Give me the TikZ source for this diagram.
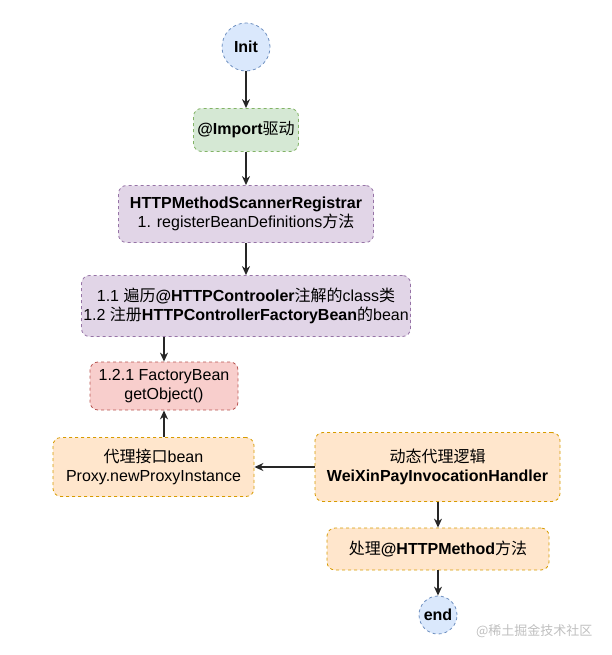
\documentclass[tikz,border=0pt]{standalone}
\usepackage{fontspec}
\setmainfont{Liberation Sans}
\newfontfamily\cjk{Noto Sans CJK SC}
\newcommand{\zh}[1]{{\cjk #1}}
\usetikzlibrary{arrows.meta}
\definecolor{bluef}{HTML}{DAE8FC}\definecolor{bluel}{HTML}{6C8EBF}
\definecolor{greenf}{HTML}{D5E8D4}\definecolor{greenl}{HTML}{82B366}
\definecolor{purpf}{HTML}{E1D5E7}\definecolor{purpl}{HTML}{9673A6}
\definecolor{redf}{HTML}{F8CECC}\definecolor{redl}{HTML}{B85450}
\definecolor{orgf}{HTML}{FFE6CC}\definecolor{orgl}{HTML}{D79B00}
\begin{document}
\begin{tikzpicture}[x=1pt,y=-1pt,
  every node/.style={font=\fontsize{16}{19.5}\selectfont},
  box/.style={draw, dashed, dash pattern=on 3pt off 3pt, rounded corners=8pt, align=center, inner sep=0pt, line width=0.8pt},
  term/.style={draw, dashed, dash pattern=on 3pt off 3pt, circle, inner sep=0pt, line width=0.8pt, fill=bluef, draw=bluel, font=\fontsize{16}{19.5}\selectfont\bfseries},
  arr/.style={-{Stealth[length=9pt,width=8pt]}, line width=1.2pt, draw=black!85}]
\useasboundingbox (0,0) rectangle (611,655);
\node[term, minimum size=48pt] (init) at (246,47) {Init};
\node[box, fill=greenf, draw=greenl, minimum width=105pt, minimum height=43pt] (imp) at (246,130) {\textbf{@Import}\zh{驱动}};
\node[box, fill=purpf, draw=purpl, minimum width=255pt, minimum height=57pt] (reg) at (246,214) {\textbf{HTTPMethodScannerRegistrar}\\1. registerBeanDefinitions\zh{方法}};
\node[box, fill=purpf, draw=purpl, minimum width=329pt, minimum height=61pt] (scan) at (246,306) {1.1 \zh{遍历}\textbf{@HTTPControoler}\zh{注解的}class\zh{类}\\1.2 \zh{注册}\textbf{HTTPControllerFactoryBean}\zh{的}bean};
\node[box, fill=redf, draw=redl, minimum width=148pt, minimum height=48pt] (fb) at (164,386) {1.2.1 FactoryBean\\getObject()};
\node[box, fill=orgf, draw=orgl, minimum width=201pt, minimum height=59pt] (proxy) at (153.5,467) {\zh{代理接口}bean\\Proxy.newProxyInstance};
\node[box, fill=orgf, draw=orgl, minimum width=245pt, minimum height=69pt] (dyn) at (437.5,467) {\zh{动态代理逻辑}\\\textbf{WeiXinPayInvocationHandler}};
\node[box, fill=orgf, draw=orgl, minimum width=222pt, minimum height=42pt] (proc) at (438,549) {\zh{处理}\textbf{@HTTPMethod}\zh{方法}};
\node[term, minimum size=38pt] (end) at (438,615) {end};
\node[text=black!25, font=\cjk\fontsize{13}{15}\selectfont, anchor=east] (wm) at (596,631) {@稀土掘金技术社区};
\draw[arr] (init) -- (imp);
\draw[arr] (imp) -- (reg);
\draw[arr] (reg) -- (scan);
\draw[arr] (scan.south -| fb.north) -- (fb.north);
\draw[arr] (proxy.north -| fb.south) -- (fb.south);
\draw[arr] (dyn.west) -- (proxy.east);
\draw[arr] (dyn.south -| proc.north) -- (proc.north);
\draw[arr] (proc) -- (end);
\end{tikzpicture}
\end{document}
